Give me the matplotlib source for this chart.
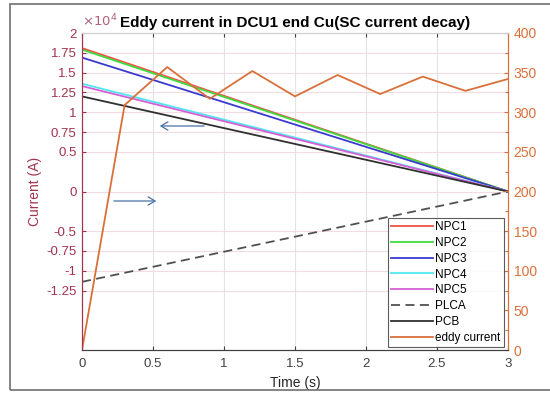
import matplotlib
matplotlib.use("Agg")
import matplotlib.pyplot as plt
import numpy as np
from matplotlib.patches import Rectangle, FancyArrowPatch

plt.rcParams['font.family'] = ['Liberation Sans', 'DejaVu Sans']

# ---- data ----
t_end = [0.0, 3.0]
npc1 = [18100, 0]
npc2 = [17900, 0]
npc3 = [16900, 0]
npc4 = [13600, 0]
npc5 = [13300, 0]
plca = [-11400, 0]
pcb = [12000, 0]

eddy_t = [0, 0.3, 0.6, 0.9, 1.2, 1.5, 1.8, 2.1, 2.4, 2.7, 3.0]
eddy_v = [0, 309, 357, 317, 352, 320, 347, 323, 345, 327, 342]

left_ticks = [-1.25, -1, -0.75, -0.5, 0, 0.5, 0.75, 1, 1.25, 1.5, 1.75, 2]
left_labels = ['-1.25', '-1', '-0.75', '-0.5', '0', '0.5', '0.75', '1', '1.25', '1.5', '1.75', '2']
x_ticks = [0, 0.5, 1, 1.5, 2, 2.5, 3]
x_labels = ['0', '0.5', '1', '1.5', '2', '2.5', '3']
right_ticks = [0, 50, 100, 150, 200, 250, 300, 350, 400]

series = [
    ('NPC1', npc1, '#F0504A', '-'),
    ('NPC2', npc2, '#3DDC3D', '-'),
    ('NPC3', npc3, '#3A3AD0', '-'),
    ('NPC4', npc4, '#4FE8F0', '-'),
    ('NPC5', npc5, '#D65FD6', '-'),
    ('PLCA', plca, '#505050', '--'),
    ('PCB', pcb, '#303030', '-'),
]

LC = '#A2334F'   # left axis colour
RC = '#D9703A'   # right axis colour

fig = plt.figure(figsize=(5.5, 3.96), dpi=100)
fig.patch.set_facecolor('white')
# outer frame
fig.patches.append(Rectangle((10/550, 1-390/396), 560/550, (390-4)/396,
                             transform=fig.transFigure, fill=False,
                             edgecolor='#707070', linewidth=1.2))

ax = fig.add_axes([82/550, 1-350/396, (508-82)/550, (350-33)/396])
handles = []
for name, vals, col, ls in series:
    h, = ax.plot(t_end, np.array(vals) / 1e4, color=col, ls=ls, lw=1.3,
                 dashes=(5, 3) if ls == '--' else (None, None), label=name)
    handles.append(h)

ax.set_xlim(0, 3)
ax.set_ylim(-2, 2)
ax.set_xticks(x_ticks)
ax.set_xticklabels(x_labels)
ax.set_yticks(left_ticks)
ax.set_yticklabels(left_labels)
ax.tick_params(axis='y', colors=LC, labelcolor=LC, direction='in', length=3,
               labelsize=9.5, width=0.8, pad=4)
ax.tick_params(axis='x', colors='#404040', labelcolor='#404040', direction='in',
               length=3, labelsize=9.5, top=True, width=0.8, pad=6)
ax.set_xlabel('Time (s)', fontsize=10, color='#262626', labelpad=4)
ax.set_ylabel('Current (A)', fontsize=10, color=LC, labelpad=2)
ax.yaxis.set_label_coords(-0.095, 0.5)
ax.grid(axis='x', color='#E3E3E3', lw=0.8)
ax.grid(axis='y', color='#F2DCE0', lw=0.8)
ax.set_axisbelow(True)
ax.spines['left'].set_color(LC)
ax.spines['bottom'].set_color('#404040')
ax.spines['top'].set_color('#D0D0D0')
ax.spines['right'].set_color(RC)
for s in ax.spines.values():
    s.set_linewidth(0.8)
ax.text(0.0, 1.012, r'$\times10^4$', transform=ax.transAxes, color='#B0607A',
        fontsize=9.5, ha='left', va='bottom')
ax.set_title('Eddy current in DCU1 end Cu(SC current decay)', fontsize=11,
             fontweight='bold', pad=4)

ax2 = ax.twinx()
he, = ax2.plot(eddy_t, eddy_v, color=RC, lw=1.3, label='eddy current')
handles.append(he)
ax2.set_ylim(0, 400)
ax2.set_yticks(right_ticks)
ax2.set_yticks(np.arange(25, 400, 50), minor=True)
ax2.tick_params(axis='y', which='both', colors=RC, labelcolor=RC, direction='in',
                labelsize=10, width=0.8, pad=4)
ax2.tick_params(axis='y', which='major', length=3)
ax2.tick_params(axis='y', which='minor', length=2)
ax2.spines['right'].set_color(RC)
ax2.spines['left'].set_color(LC)
ax2.spines['top'].set_color('#D0D0D0')
ax2.spines['bottom'].set_color('#404040')
for s in ax2.spines.values():
    s.set_linewidth(0.8)

leg = ax2.legend(handles=handles, loc='lower right', fontsize=8.5,
                 frameon=True, fancybox=False, borderpad=0.3,
                 labelspacing=0.32, handlelength=3.5, handletextpad=0.2,
                 borderaxespad=0.1, bbox_to_anchor=(0.993, 0.005))
leg.get_frame().set_edgecolor('#333333')
leg.get_frame().set_linewidth(0.8)

# blue annotation arrows (figure pixel coordinates)
def fig_xy(px, py):
    return (px / 550, 1 - py / 396)

for (x0, y0), (x1, y1) in [((207, 126), (157, 126)), ((111, 201), (159, 201))]:
    arr = FancyArrowPatch(fig_xy(x0, y0), fig_xy(x1, y1), transform=fig.transFigure,
                          arrowstyle='->,head_length=5,head_width=3',
                          color='#4A72A8', lw=0.9)
    fig.patches.append(arr)

fig.savefig('out.png', dpi=100)
